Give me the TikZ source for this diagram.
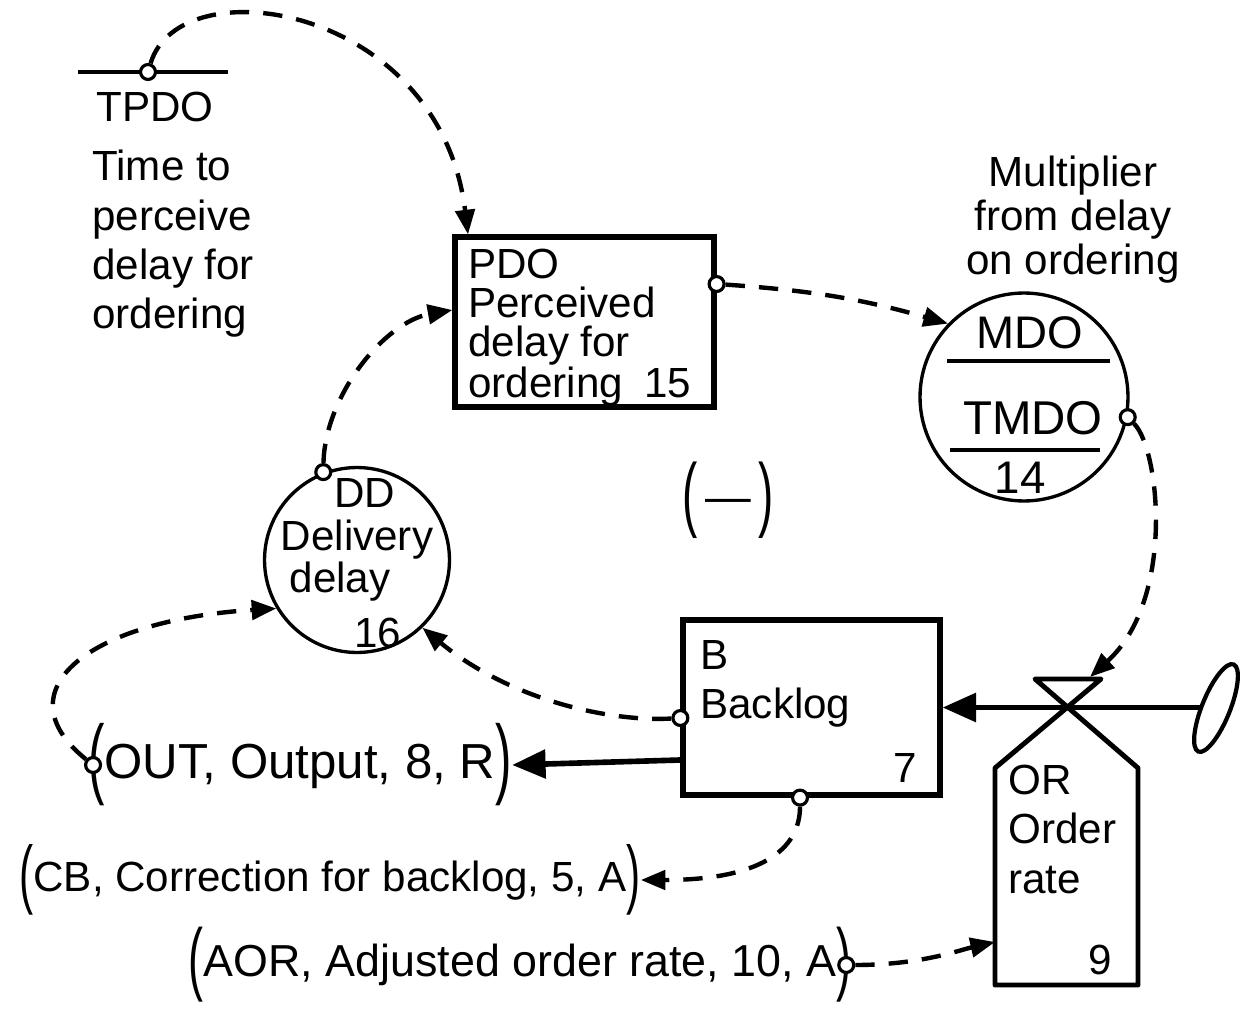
\documentclass[tikz,border=0pt]{standalone}
\usepackage{fontspec}
\setmainfont{Liberation Sans}
\usetikzlibrary{arrows.meta}
\newcommand{\tallp}[1]{\raisebox{-0.2em}{\scalebox{1}[1.8]{#1}}}
\begin{document}
\begin{tikzpicture}[x=0.02cm,y=-0.02cm,
  txt/.style={font=\fontsize{24}{28}\selectfont, inner sep=0pt},
  stock/.style={draw, rectangle, line width=3pt, inner sep=0pt},
  aux/.style={draw, circle, line width=1.9pt, inner sep=0pt},
  tap/.style={draw, circle, line width=1.8pt, fill=white, minimum size=8.5pt, inner sep=0pt},
  info/.style={line width=2.5pt, dash pattern=on 11pt off 8pt, -{Triangle[length=14pt,width=11pt]}},
  flowarr/.style={line width=3.2pt, -{Triangle[length=19pt,width=16pt]}},
  heavy/.style={line width=2.8pt, line join=round}]
\useasboundingbox (0,0) rectangle (1248,1017);
\fill[white] (0,0) rectangle (1248,1017);

% TPDO constant
\draw[heavy] (78,72) -- (228,72);
\node[tap] (tpdoM) at (148,72) {};
\node[txt] (tpdo) at (155,107) {TPDO};
\node[txt, align=left, anchor=north west] (tpdoL) at (92,150) {Time to\\perceive\\delay for\\ordering};

% PDO level
\node[stock, minimum width=5.18cm, minimum height=3.4cm] (pdo) at (584.5,322) {};
\node[txt, font=\fontsize{24}{22}\selectfont, align=left, anchor=north west] (pdoT) at (468,249) {PDO\\Perceived\\delay for\\ordering\hspace{0.5em}15};
\node[tap] (pdoM) at ([yshift=0.76cm]pdo.east) {};

% MDO auxiliary
\node[aux, minimum size=4.16cm] (mdo) at (1024,397) {};
\draw[line width=1.9pt] (947,361) -- (1110,361);
\draw[line width=1.9pt] (950,450) -- (1100,450);
\node[txt, font=\fontsize{26}{28}\selectfont] (mdoA) at (1030,333) {MDO};
\node[txt, font=\fontsize{27}{28}\selectfont] (mdoB) at (1033,418) {TMDO};
\node[txt, font=\fontsize{26}{28}\selectfont] (mdoC) at (1020,478) {14};
\node[txt, align=center, font=\fontsize{24}{25}\selectfont] (mdoL) at (1073,220) {Multiplier\\from delay\\on ordering};
\node[tap] (mdoM) at (mdo.-11) {};

% DD auxiliary
\node[aux, minimum size=3.7cm] (dd) at (357,560) {};
\node[txt] (ddA) at (365,493) {DD};
\node[txt] (ddB) at (357,540) {Delivery};
\node[txt] (ddC) at (340,582) {delay};
\node[txt] (ddD) at (378,633) {16};
\node[tap] (ddM) at (dd.111) {};

\node[txt, font=\fontsize{26}{28}\selectfont] (sign) at (728,500) {\tallp{(}\,—\,\tallp{)}};

% Backlog level
\node[stock, minimum width=5.14cm, minimum height=3.5cm] (b) at (811.5,707.5) {};
\node[txt, align=left, anchor=north west] (bT) at (700,640) {B\\Backlog};
\node[txt] (bN) at (905,768) {7};
\node[tap] (bL) at ([yshift=-0.21cm]b.west) {};
\node[tap] (bS) at ([xshift=-0.23cm]b.south) {};

% Order rate (valve + rate box)
\coordinate (vx) at (1068,707.5);
\coordinate (vTop) at (1090,677);
\coordinate (orL) at (995,942);
\draw[heavy] (1035,679) -- (1101,679) -- (995,768) -- (995,985) -- (1138,985) -- (1138,768) -- cycle;
\node[txt, align=left, anchor=north west] (orT) at (1008,765) {OR\\Order\\rate};
\node[txt] (orN) at (1100,960) {9};

% source cloud
\draw[line width=2.4pt, rotate around={-22:(1216,708)}] (1216,708) ellipse [x radius=14, y radius=47];
\coordinate (cloudL) at (1202,707.5);
\draw[line width=3.2pt] (cloudL) -- (vx);
\draw[flowarr] (vx) -- (b.east);

% Output
\node[txt, font=\fontsize{28}{30}\selectfont] (out) at (300,765) {\tallp{(}OUT, Output, 8, R\tallp{)}};
\node[tap] (outM) at ([xshift=3pt]out.west) {};
\draw[flowarr] ([yshift=-1.05cm]b.west) -- (out.east);

% Correction for backlog
\node[txt] (cb) at (330,880) {\tallp{(}CB, Correction for backlog, 5, A\tallp{)}};
% Adjusted order rate
\node[txt, font=\fontsize{25.5}{28}\selectfont] (aor) at (520,965) {\tallp{(}AOR, Adjusted order rate, 10, A\tallp{)}};
\node[tap] (aorM) at ([xshift=-3pt]aor.east) {};

% information links
\draw[info] (tpdoM) .. controls (180,-35) and (440,5) .. ([xshift=-2.33cm]pdo.north);
\draw[info] (pdoM) to[bend left=6] (mdo.136);
\draw[info] (mdoM) .. controls (1160,450) and (1175,600) .. (vTop);
\draw[info] (bL) .. controls (610,722) and (510,700) .. (dd.-46);
\draw[info] (bS) .. controls (800,850) and (760,880) .. (cb.east);
\draw[info] (outM) .. controls (0,690) and (90,620) .. (dd.211);
\draw[info] (ddM) .. controls (325,395) and (385,322) .. ([yshift=0.24cm]pdo.west);
\draw[info] (aorM) .. controls (920,965) and (960,950) .. (orL);
\end{tikzpicture}
\end{document}
